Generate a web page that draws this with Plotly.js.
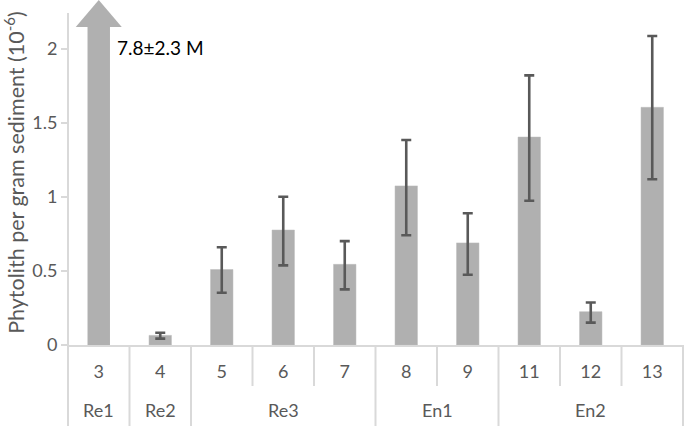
<!DOCTYPE html>
<html>
<head>
<meta charset="utf-8">
<script src="https://cdn.plot.ly/plotly-3.0.1.min.js"></script>
<style>html,body{margin:0;padding:0;background:#fff}#chart{width:685px;height:426px}</style>
</head>
<body>
<div id="chart"></div>
<script>
// ---- data ----
var samples   = ['3','4','5','6','7','8','9','11','12','13'];
var groups    = ['Re1','Re2','Re3','Re3','Re3','En1','En1','En2','En2','En2'];
var means     = [7.8, 0.065, 0.51, 0.777, 0.545, 1.075, 0.69, 1.405, 0.225, 1.606];
var errPlus   = [2.3, 0.018, 0.15, 0.225, 0.157, 0.31, 0.20, 0.417, 0.062, 0.482];
var errMinus  = [2.3, 0.022, 0.157, 0.239, 0.169, 0.333, 0.215, 0.43, 0.074, 0.486];
var yTickVals = [0, 0.5, 1, 1.5, 2];
var yTickText = ['0', '0.5', '1', '1.5', '2'];

// ---- layout constants ----
var W = 685, H = 426;
var M = {l: 68, r: 2, t: 0, b: 81};
var plotW = W - M.l - M.r, plotH = H - M.t - M.b;
var yMax = 2.331;          // top of the drawing area (room for the off-scale arrow)
var axisTop = 2.243;       // where the visible y-axis line ends
var headLen = 0.182;       // arrow-head length, in axis units
var headHalfW = 23;        // arrow-head half width, px
var FONT = 'Lato, "Open Sans", sans-serif';
var GRAY = '#595959', LINE = '#d9d9d9', BAR = '#b0b0b0';

var N = samples.length;
var capTop = yMax - headLen;

// off-scale first sample (arrow) and the rest
var arrowIdx = 0;
var restX = samples.slice(1), restY = means.slice(1);
var restP = errPlus.slice(1), restM = errMinus.slice(1);

var traces = [
  {type: 'bar', x: [samples[arrowIdx]], y: [Math.min(means[arrowIdx], capTop)],
   marker: {color: BAR}, hoverinfo: 'skip', showlegend: false},
  {type: 'bar', x: restX, y: restY,
   marker: {color: BAR, line: {color: '#bdbdbd', width: 0.5}},
   error_y: {type: 'data', symmetric: false, array: restP, arrayminus: restM,
             color: '#595959', thickness: 2.6, width: 5},
   showlegend: false}
];

var shapes = [];
// arrow head
var cx = (arrowIdx + 0.5) / N;
var hw = headHalfW / plotW;
shapes.push({type: 'path', xref: 'paper', yref: 'y',
  path: 'M' + (cx - hw) + ',' + capTop + ' L' + (cx + hw) + ',' + capTop + ' L' + cx + ',' + yMax + ' Z',
  fillcolor: BAR, line: {width: 0}, layer: 'above'});
// y axis line
shapes.push({type: 'line', xref: 'paper', yref: 'y', x0: 0, x1: 0, y0: 0, y1: axisTop,
  line: {color: LINE, width: 2}});
// category dividers
var innerLen = 41 / plotH, outerLen = 81 / plotH;
for (var i = 0; i <= N; i++) {
  var isGroupEdge = (i === 0 || i === N || groups[i] !== groups[i - 1]);
  shapes.push({type: 'line', xref: 'paper', yref: 'paper', x0: i / N, x1: i / N,
    y0: 0, y1: -(isGroupEdge ? outerLen : innerLen),
    line: {color: LINE, width: 2}});
}

var annotations = [];
// group labels
var start = 0;
for (var j = 1; j <= N; j++) {
  if (j === N || groups[j] !== groups[start]) {
    annotations.push({xref: 'paper', yref: 'paper', x: (start + j) / 2 / N, y: -65 / plotH,
      xanchor: 'center', yanchor: 'middle', showarrow: false, text: groups[start],
      font: {family: FONT, size: 18, color: GRAY}});
    start = j;
  }
}
// off-scale value label
annotations.push({xref: 'paper', yref: 'y', x: cx, xshift: 16, y: 2.01,
  xanchor: 'left', yanchor: 'middle', showarrow: false,
  text: means[arrowIdx] + '±' + errPlus[arrowIdx] + ' M',
  font: {family: FONT, size: 19, color: '#000'}});

var layout = {
  width: W, height: H, margin: M,
  paper_bgcolor: '#fff', plot_bgcolor: '#fff',
  barmode: 'overlay', bargap: 0.635,
  font: {family: FONT, color: GRAY},
  xaxis: {type: 'category', categoryorder: 'array', categoryarray: samples,
    range: [-0.5, N - 0.5], showline: true, linecolor: LINE, linewidth: 2,
    showgrid: false, zeroline: false, ticks: '', ticklabelstandoff: 9,
    tickfont: {family: FONT, size: 18, color: GRAY}, fixedrange: true},
  yaxis: {range: [0, yMax], tickvals: yTickVals, ticktext: yTickText,
    showline: false, showgrid: false, zeroline: false,
    ticks: 'outside', ticklen: 6, tickwidth: 1.5, tickcolor: LINE,
    tickfont: {family: FONT, size: 18, color: GRAY},
    title: {text: 'Phytolith per gram sediment (10<sup>-6</sup>)', standoff: 6,
            font: {family: FONT, size: 21.5, color: GRAY}}},
  shapes: shapes,
  annotations: annotations
};

Plotly.newPlot('chart', traces, layout, {displayModeBar: false, staticPlot: true});
</script>
</body>
</html>
